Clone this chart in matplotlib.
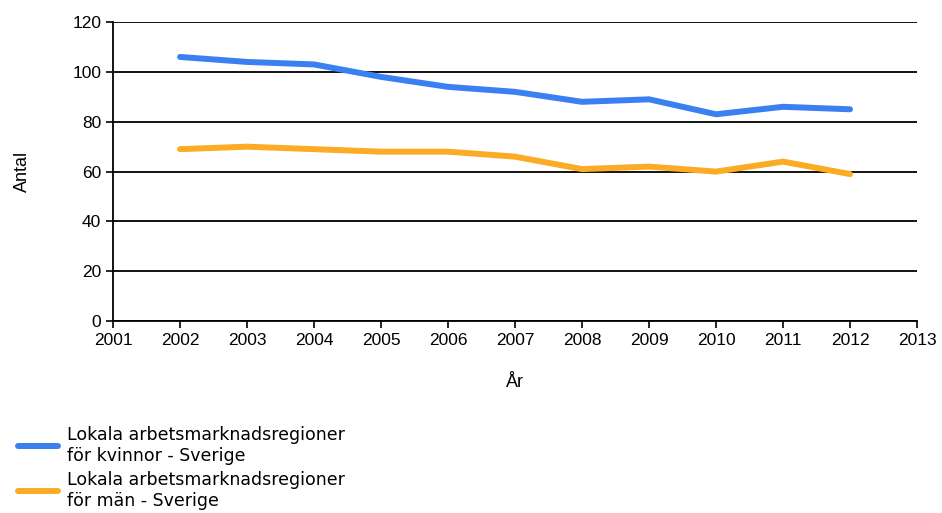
import matplotlib
matplotlib.use('Agg')
import matplotlib.pyplot as plt

years = [2002, 2003, 2004, 2005, 2006, 2007, 2008, 2009, 2010, 2011, 2012]
kvinnor = [106, 104, 103, 98, 94, 92, 88, 89, 83, 86, 85]
man = [69, 70, 69, 68, 68, 66, 61, 62, 60, 64, 59]
labels = ['Lokala arbetsmarknadsregioner\nför kvinnor - Sverige',
          'Lokala arbetsmarknadsregioner\nför män - Sverige']
colors = ['#3a80f0', '#fbab24']

tick_font = ['Liberation Sans', 'DejaVu Sans']

fig = plt.figure(figsize=(9.42, 5.13), dpi=100)
ax = fig.add_axes([0.12, 0.374, 0.8535, 0.583])

ax.plot(years, kvinnor, color=colors[0], linewidth=4.3, solid_capstyle='round',
        solid_joinstyle='round', label=labels[0])
ax.plot(years, man, color=colors[1], linewidth=4.3, solid_capstyle='round',
        solid_joinstyle='round', label=labels[1])

ax.set_xlim(2001, 2013)
ax.set_ylim(0, 120)
ax.set_xticks(range(2001, 2014))
ax.set_yticks(range(0, 121, 20))
ax.grid(axis='y', color='black', linewidth=1.3)
ax.set_axisbelow(True)
for s in ['top', 'right']:
    ax.spines[s].set_visible(False)
for s in ['left', 'bottom']:
    ax.spines[s].set_linewidth(1.3)
ax.tick_params(length=5, width=1.2, labelsize=12.5)
for lab in ax.get_xticklabels() + ax.get_yticklabels():
    lab.set_family(tick_font)

ax.set_xlabel('År', fontsize=13, family=tick_font, labelpad=19)
ax.set_ylabel('Antal', fontsize=13, family=tick_font, labelpad=30)

fig.legend(loc='upper left', bbox_to_anchor=(0.003, 0.2), frameon=False,
           handlelength=2.3, handletextpad=0.5, labelspacing=0.35,
           prop={'family': 'DejaVu Sans', 'size': 12.5})

fig.savefig('out.png', dpi=100)
